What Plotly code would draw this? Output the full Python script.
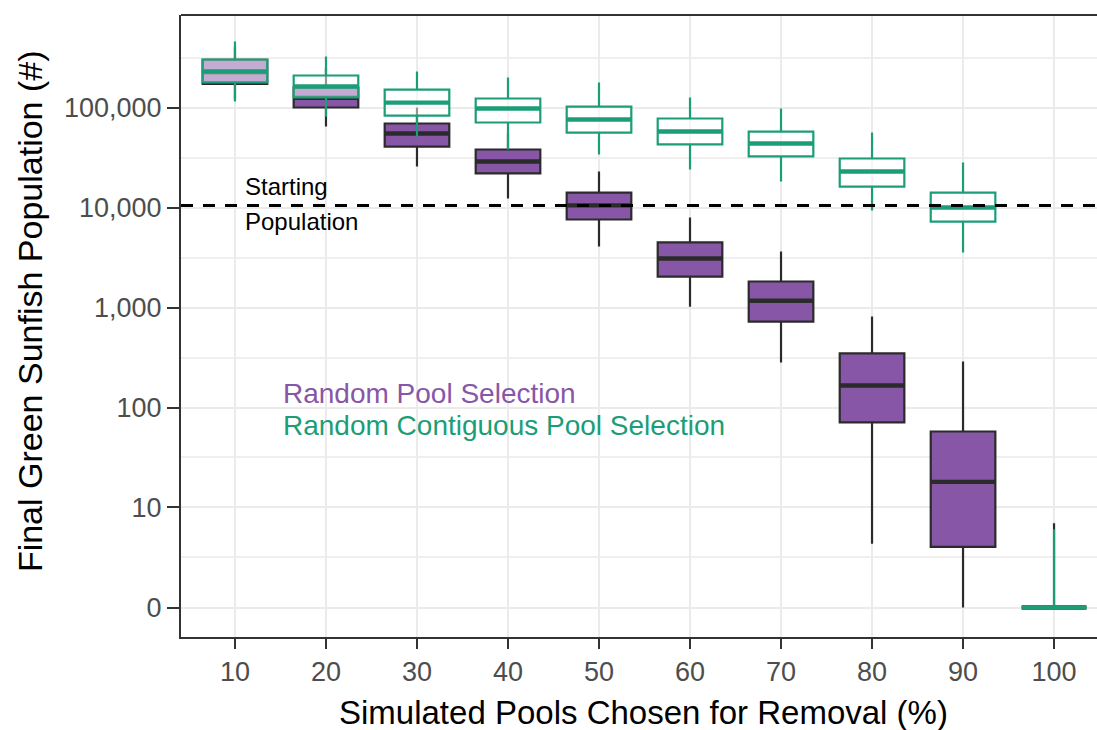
import numpy as np
import plotly.graph_objects as go

# Percent of simulated pools chosen for removal
removal_pct = [10, 20, 30, 40, 50, 60, 70, 80, 90, 100]

# Random Pool Selection: box-plot summaries of final population
rand_low = [120000, 64600, 25700, 12300, 4070, 1020, 282, 4.1, 0, 0]
rand_q1 = [172000, 100000, 40700, 21900, 7590, 2040, 724, 71, 3.8, 0]
rand_med = [225000, 125000, 55000, 28800, 10500, 3090, 1170, 166, 18, 0]
rand_q3 = [300000, 158000, 69200, 38000, 14100, 4470, 1820, 347, 57.5, 0]
rand_high = [400000, 250000, 100000, 55000, 22900, 7940, 3630, 813, 288, 6.8]

# Random Contiguous Pool Selection
contig_low = [115000, 81000, 51000, 38000, 33900, 24000, 18200, 9330, 3550, 0]
contig_q1 = [178000, 126000, 83000, 70800, 56200, 42700, 32400, 16200, 7240, 0]
contig_med = [229000, 162000, 112000, 97700, 75900, 57500, 43600, 22900, 10000, 0]
contig_q3 = [302000, 209000, 151000, 123000, 102000, 77600, 57500, 30900, 14100, 0]
contig_high = [457000, 324000, 229000, 200000, 178000, 126000, 97700, 56200, 28200, 5.9]

starting_population = 10500

y_tick_values = [0, 10, 100, 1000, 10000, 100000]
y_tick_labels = ["0", "10", "100", "1,000", "10,000", "100,000"]
x_tick_labels = [str(p) for p in removal_pct]

PURPLE = "#8856a7"
GREEN = "#1b9e77"
DARK = "#2b2b2b"
FONT = "Liberation Sans, Arial, sans-serif"


def pseudo_log(v):
    """Pseudo-log (base 10, sigma 1) transform used for the y scale."""
    return np.arcsinh(np.asarray(v, dtype=float) / 2.0) / np.log(10)


BOX_W = 7.1  # box width in x-axis units (10 units between categories)

fig = go.Figure()


def add_boxes(low, q1, med, q3, high, line_color, fill_color, median_color):
    fig.add_trace(go.Box(
        x=removal_pct,
        lowerfence=pseudo_log(low), q1=pseudo_log(q1), median=pseudo_log(med),
        q3=pseudo_log(q3), upperfence=pseudo_log(high),
        width=BOX_W, whiskerwidth=0, boxpoints=False,
        fillcolor=fill_color, line=dict(color=line_color, width=2.2),
        showlegend=False, hoverinfo="skip",
    ))
    # thicker median bar drawn as a flat box
    m = pseudo_log(med)
    fig.add_trace(go.Box(
        x=removal_pct, lowerfence=m, q1=m, median=m, q3=m, upperfence=m,
        width=BOX_W, whiskerwidth=0, boxpoints=False,
        fillcolor="rgba(0,0,0,0)", line=dict(color=median_color, width=4.4),
        showlegend=False, hoverinfo="skip",
    ))


add_boxes(rand_low, rand_q1, rand_med, rand_q3, rand_high, DARK, PURPLE, DARK)
add_boxes(contig_low, contig_q1, contig_med, contig_q3, contig_high,
          GREEN, "rgba(255,255,255,0.5)", GREEN)

start_t = float(pseudo_log(starting_population))

annotations = [
    dict(x=10.9, y=start_t, xref="x", yref="y", text="Starting",
         showarrow=False, xanchor="left", yanchor="middle", yshift=19,
         font=dict(family=FONT, size=24, color="black")),
    dict(x=10.9, y=start_t, xref="x", yref="y", text="Population",
         showarrow=False, xanchor="left", yanchor="middle", yshift=-16,
         font=dict(family=FONT, size=24, color="black")),
    dict(x=15.05, y=0.3907, xref="x", yref="paper", text="Random Pool Selection",
         showarrow=False, xanchor="left", yanchor="middle",
         font=dict(family=FONT, size=28, color=PURPLE)),
    dict(x=15.05, y=0.3408, xref="x", yref="paper", text="Random Contiguous Pool Selection",
         showarrow=False, xanchor="left", yanchor="middle",
         font=dict(family=FONT, size=28, color=GREEN)),
    dict(x=0.5044, y=-0.1206, xref="paper", yref="paper",
         text="Simulated Pools Chosen for Removal (%)", showarrow=False,
         xanchor="center", yanchor="middle", font=dict(family=FONT, size=33, color="black")),
    dict(x=-0.1648, y=0.524, xref="paper", yref="paper",
         text="Final Green Sunfish Population (#)", showarrow=False, textangle=-90,
         xanchor="center", yanchor="middle", font=dict(family=FONT, size=34, color="black")),
]

major_t = [float(t) for t in pseudo_log(y_tick_values + [1000000])]
minor_t = [(a + b) / 2 for a, b in zip(major_t[:-1], major_t[1:])]

fig.update_layout(
    width=1097, height=730,
    margin=dict(l=181, r=0, t=15, b=93),
    paper_bgcolor="white", plot_bgcolor="white",
    boxmode="overlay",
    showlegend=False,
    annotations=annotations,
    xaxis=dict(
        range=[4.07, 104.72], tickmode="array", tickvals=removal_pct, ticktext=x_tick_labels,
        showgrid=True, gridcolor="#ebebeb", gridwidth=2, zeroline=False,
        showline=True, linecolor="#333333", linewidth=2,
        ticks="outside", ticklen=10, tickwidth=2, tickcolor="#333333",
        tickfont=dict(family=FONT, size=27, color="#4d4d4d"),
    ),
    yaxis=dict(
        range=[-0.295, 5.925], tickmode="array",
        tickvals=[float(t) for t in pseudo_log(y_tick_values)], ticktext=y_tick_labels,
        showgrid=True, gridcolor="#ebebeb", gridwidth=2, zeroline=False,
        showline=True, linecolor="#333333", linewidth=2,
        ticks="outside", ticklen=12, tickwidth=2, tickcolor="#333333",
        tickfont=dict(family=FONT, size=27, color="#4d4d4d"),
        minor=dict(tickmode="array", tickvals=minor_t, showgrid=True,
                   gridcolor="#efefef", gridwidth=1.6, ticklen=0),
    ),
)

# top panel border
fig.add_shape(type="line", xref="paper", yref="paper", x0=0, x1=1, y0=1, y1=1,
              line=dict(color="#333333", width=2))
# starting population reference line
fig.add_hline(y=start_t, line=dict(color="black", width=3, dash="12px,10px"))

fig.write_html("out.html")
